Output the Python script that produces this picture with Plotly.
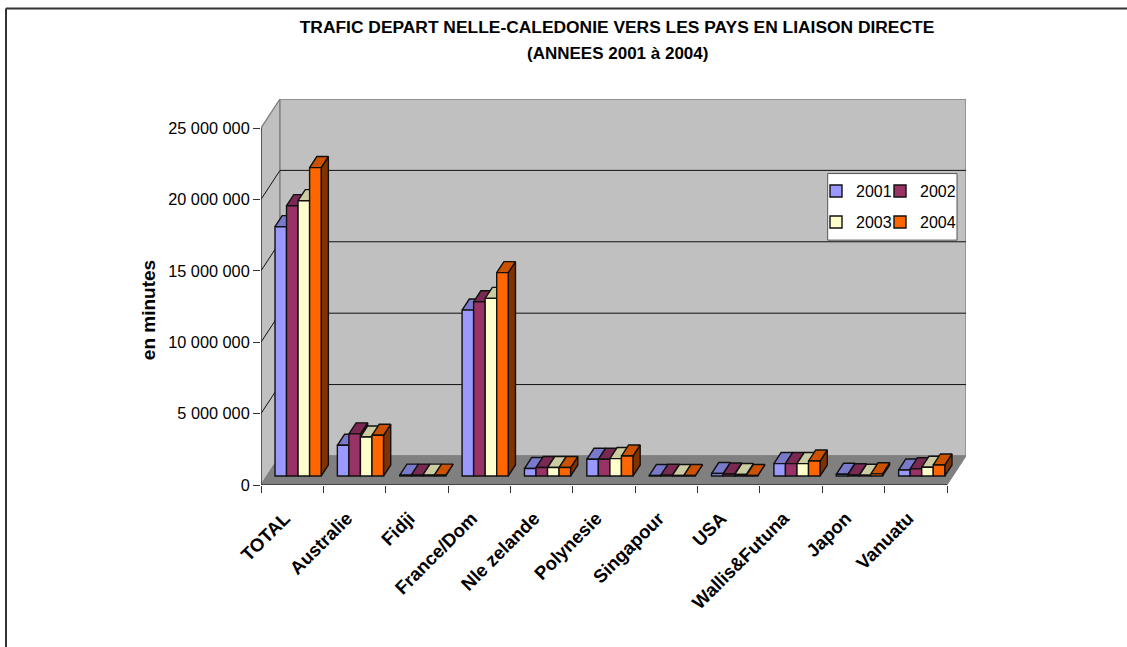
import plotly.graph_objects as go

# ---------- data ----------
categories = ["TOTAL", "Australie", "Fidji", "France/Dom", "Nle zelande", "Polynesie",
              "Singapour", "USA", "Wallis&Futuna", "Japon", "Vanuatu"]
series_names = ["2001", "2002", "2003", "2004"]
v2001 = [17460000, 2150000, 60000, 11620000, 520000, 1170000, 30000, 170000, 870000, 120000, 420000]
v2002 = [18930000, 2950000, 60000, 12200000, 590000, 1170000, 50000, 140000, 870000, 80000, 500000]
v2003 = [19280000, 2730000, 60000, 12440000, 590000, 1220000, 30000, 100000, 870000, 50000, 610000]
v2004 = [21600000, 2850000, 60000, 14240000, 590000, 1400000, 30000, 30000, 1050000, 150000, 770000]
y_ticks = [0, 5000000, 10000000, 15000000, 20000000, 25000000]
y_labels = ["0", "5 000 000", "10 000 000", "15 000 000", "20 000 000", "25 000 000"]
front_colors = ["#9999FF", "#993366", "#FFFFCC", "#FF6600"]
top_colors = ["#7A7ACC", "#7A2952", "#CCCCA3", "#CC5200"]
side_colors = ["#4D4D80", "#4D1933", "#808066", "#803300"]
all_values = [v2001, v2002, v2003, v2004]

# ---------- layout geometry (pixels) ----------
W, H = 1127, 647
PL, PR, PT, PB = 261, 966, 99, 484.7

# ---------- oblique projection of the 3-D box, in axis units ----------
YMAX = 25000000
NCAT = len(categories)
DX = 19 / 62.36          # wall depth, x axis units
DY = 29 / 71.3 * 5000000 # wall depth, y axis units
D0, D1 = 0.31, 0.69      # depth span of the bars
BAR_W = 0.185
GROUP_START = 0.13
base = D0 * DY
EDGE = dict(color="#111111", width=1.4)


def P(u, v, d=0.0):
    return u + d * DX, v + d * DY


def px(xp):
    return (xp - PL) / (PR - PL)


def py(yp):
    return (PB - yp) / (PB - PT)


def poly(points):
    return "M" + "L".join(f"{x},{y}" for x, y in points) + "Z"


shapes = []
WALL = dict(fillcolor="#C0C0C0", line=dict(color="#808080", width=1.3), layer="below",
            type="path", xref="x", yref="y")
shapes.append(dict(WALL, path=poly([P(0, 0), P(0, YMAX), P(0, YMAX, 1), P(0, 0, 1)])))
shapes.append(dict(WALL, path=poly([P(0, 0, 1), P(0, YMAX, 1), P(NCAT, YMAX, 1), P(NCAT, 0, 1)])))
shapes.append(dict(WALL, fillcolor="#808080", line=dict(color="#808080", width=1),
                   path=poly([P(0, 0), P(NCAT, 0), P(NCAT, 0, 1), P(0, 0, 1)])))
for t in y_ticks[1:-1]:
    x0, y0 = P(0, t)
    x1, y1 = P(0, t, 1)
    x2, y2 = P(NCAT, t, 1)
    shapes.append(dict(type="line", layer="below", xref="x", yref="y", x0=x0, y0=y0, x1=x1, y1=y1,
                       line=dict(color="#111111", width=1)))
    shapes.append(dict(type="line", layer="below", xref="x", yref="y", x0=x1, y0=y1, x1=x2, y1=y2,
                       line=dict(color="#111111", width=1)))
# axis lines stop at the front of the box
shapes.append(dict(type="line", xref="x", yref="y", x0=0, y0=0, x1=0, y1=YMAX, layer="below",
                   line=dict(color="#333333", width=1.3)))
shapes.append(dict(type="line", xref="x", yref="y", x0=0, y0=0, x1=NCAT, y1=0, layer="below",
                   line=dict(color="#333333", width=1.3)))

fig = go.Figure()

# sides and tops of the bars, painted left to right
for c in range(NCAT):
    for s, vals in enumerate(all_values):
        left = c + GROUP_START + s * BAR_W + D0 * DX
        right = left + BAR_W
        bot = base
        top = base + vals[c]
        dx, dy = (D1 - D0) * DX, (D1 - D0) * DY
        side = [(right, bot), (right + dx, bot + dy), (right + dx, top + dy), (right, top), (right, bot)]
        lid = [(left, top), (right, top), (right + dx, top + dy), (left + dx, top + dy), (left, top)]
        for pts, col in ((side, side_colors[s]), (lid, top_colors[s])):
            fig.add_trace(go.Scatter(x=[p[0] for p in pts], y=[p[1] for p in pts], mode="lines",
                                     fill="toself", fillcolor=col, line=EDGE,
                                     showlegend=False, hoverinfo="skip", xaxis="x", yaxis="y"))

# front faces: real bars, on an overlay pair of axes so they sit above the tops and sides
legend_ids = ["legend", "legend2", "legend3", "legend4"]
for s, vals in enumerate(all_values):
    xs = [c + GROUP_START + (s + 0.5) * BAR_W + D0 * DX for c in range(NCAT)]
    fig.add_trace(go.Bar(x=xs, y=vals, base=base, width=BAR_W, name=series_names[s],
                         marker=dict(color=front_colors[s], line=EDGE),
                         xaxis="x2", yaxis="y2", legend=legend_ids[s]))

# outer frame and legend box
shapes.append(dict(type="line", xref="paper", yref="paper", x0=px(6), x1=px(6), y0=py(8.5), y1=py(647),
                   layer="above", line=dict(color="#333333", width=2)))
shapes.append(dict(type="line", xref="paper", yref="paper", x0=px(6), x1=px(1127), y0=py(8.5), y1=py(8.5),
                   layer="above", line=dict(color="#333333", width=2)))
shapes.append(dict(type="rect", xref="paper", yref="paper", x0=px(827.7), x1=px(957), y0=py(240), y1=py(173.5),
                   layer="above", fillcolor="white", line=dict(color="#555555", width=1)))

FONT = "Liberation Sans"
x_range = [0, NCAT + DX]
y_range = [0, YMAX + DY]
legend_style = dict(xanchor="left", yanchor="middle", bgcolor="rgba(0,0,0,0)",
                    borderwidth=0, font=dict(size=16, family=FONT, color="black"), itemwidth=30)

fig.update_layout(
    width=W, height=H, autosize=False, showlegend=True, barmode="overlay",
    margin=dict(l=PL, r=W - PR, t=PT, b=H - PB, pad=0),
    paper_bgcolor="white", plot_bgcolor="white",
    font=dict(family=FONT, color="black"),
    title=dict(text="<b>TRAFIC DEPART NELLE-CALEDONIE VERS LES PAYS EN LIAISON DIRECTE</b>",
               x=617 / W, y=1 - 27 / H, xanchor="center", yanchor="middle", xref="container", yref="container",
               font=dict(size=17.4, family=FONT, color="black")),
    annotations=[
        dict(text="<b>(ANNEES 2001 à 2004)</b>", x=px(617), y=py(54), xref="paper", yref="paper",
             showarrow=False, xanchor="center", yanchor="middle", font=dict(size=17, family=FONT, color="black")),
        dict(text="<b>en minutes</b>", x=px(148), y=py(310), xref="paper", yref="paper", textangle=-90,
             showarrow=False, xanchor="center", yanchor="middle", font=dict(size=19, family=FONT, color="black")),
    ],
    shapes=shapes,
    xaxis=dict(range=x_range, tickmode="array", tickvals=[c + 0.38 for c in range(NCAT)], ticktext=categories,
               tickangle=-45, ticks="", showgrid=False, zeroline=False, showline=False,
               tickfont=dict(size=18.5, family=FONT, color="black", weight="bold"), ticklabelstandoff=18,
               minor=dict(tickmode="array", tickvals=list(range(NCAT + 1)), ticks="outside", ticklen=7, tickwidth=1.2,
                          tickcolor="#333333", showgrid=False)),
    yaxis=dict(range=y_range, tickmode="array", tickvals=y_ticks, ticktext=y_labels, ticks="outside", ticklen=7,
               tickwidth=1.2, tickcolor="#333333", showgrid=False, zeroline=False, showline=False,
               tickfont=dict(size=16.3, family=FONT, color="black"), ticklabelstandoff=0),
    xaxis2=dict(range=x_range, overlaying="x", visible=False),
    yaxis2=dict(range=y_range, overlaying="y", visible=False),
    legend=dict(legend_style, x=px(816), y=py(191)),
    legend2=dict(legend_style, x=px(880), y=py(191)),
    legend3=dict(legend_style, x=px(816), y=py(222)),
    legend4=dict(legend_style, x=px(880), y=py(222)),
)

fig.write_html("out.html", config={"displayModeBar": False}, post_script="document.body.style.margin='0';")
